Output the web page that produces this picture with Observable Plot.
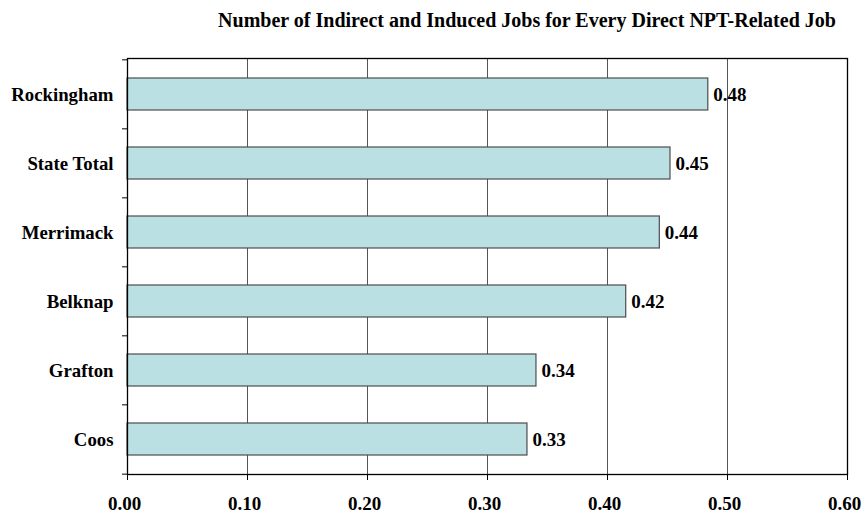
<!DOCTYPE html>
<html>
<head>
<meta charset="utf-8">
<script src="https://cdn.jsdelivr.net/npm/d3@7"></script>
<script src="https://cdn.jsdelivr.net/npm/@observablehq/plot@0.6"></script>
<style>
  html, body { margin: 0; padding: 0; background: #fff; }
  #title {
    font: bold 20px "Liberation Serif", "Times New Roman", serif; color: #000;
    height: 40px; line-height: 40px; box-sizing: border-box;
    padding-left: 193px; text-align: center; width: 861px;
    white-space: nowrap;
  }
</style>
</head>
<body>
<div id="title">Number of Indirect and Induced Jobs for Every Direct NPT-Related Job</div>
<div id="chart"></div>
<script>
const categories = ["Rockingham", "State Total", "Merrimack", "Belknap", "Grafton", "Coos"];
const values = [0.484, 0.4525, 0.4436, 0.4156, 0.3408, 0.3333];
const valueLabels = ["0.48", "0.45", "0.44", "0.42", "0.34", "0.33"];
const xTicks = [0, 0.1, 0.2, 0.3, 0.4, 0.5, 0.6];
const gridTicks = [0.1, 0.2, 0.3, 0.4, 0.5];

const data = categories.map((c, i) => ({name: c, value: values[i], label: valueLabels[i]}));

const W = 861, H = 474, MT = 18, MB = 40, ML = 127, MR = 14;
const step = (H - MT - MB) / categories.length;
const serif = '"Liberation Serif", "Times New Roman", serif';

const chart = Plot.plot({
  width: W, height: H,
  marginTop: MT, marginBottom: MB, marginLeft: ML, marginRight: MR,
  style: {fontFamily: serif, background: "#fff", color: "#000", overflow: "visible"},
  x: {domain: [0, 0.6]},
  y: {domain: categories, paddingInner: 0.54, paddingOuter: 0.27},
  marks: [
    Plot.gridX(gridTicks, {stroke: "#555", strokeOpacity: 1}),
    Plot.barX(data, {x: "value", y: "name", fill: "#BAE0E4", stroke: "#4d4d4d", strokeWidth: 1.2}),
    Plot.text(data, {x: "value", y: "name", text: "label", textAnchor: "start", dx: 5,
      fontSize: 19, fontWeight: "bold", fill: "#000"}),
    Plot.axisY({tickSize: 0, tickPadding: 14, fontSize: 18.8, fontWeight: "bold", label: null}),
    Plot.axisY({tickSize: 5, text: null, dy: -step / 2, stroke: "#000", label: null}),
    Plot.axisY({ticks: [categories[categories.length - 1]], tickSize: 5, text: null, dy: step / 2, stroke: "#000", label: null}),
    Plot.axisX({ticks: xTicks, tickSize: 6, text: null, stroke: "#000", label: null}),
    Plot.axisX({ticks: xTicks, tickFormat: d3.format(".2f"), tickSize: 0, tickPadding: 22, dx: -3,
      fontSize: 19, fontWeight: "bold", label: null}),
    Plot.frame({stroke: "#000", strokeWidth: 1.3})
  ]
});
document.getElementById("chart").appendChild(chart);
</script>
</body>
</html>
